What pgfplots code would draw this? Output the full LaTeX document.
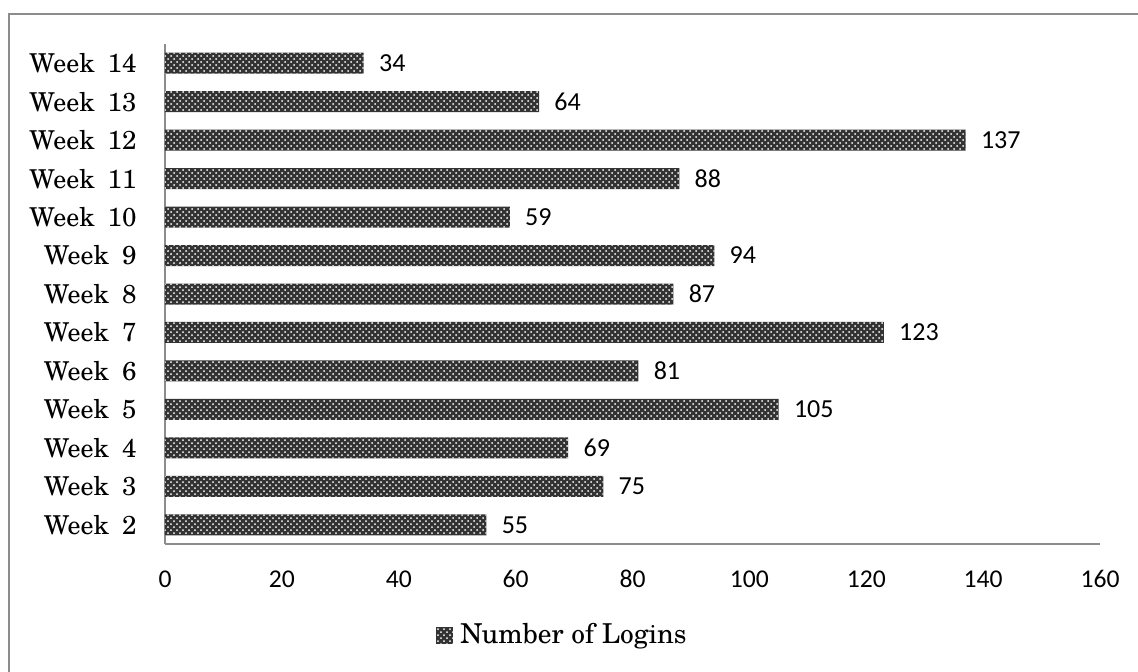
\documentclass[border=0pt]{standalone}
\usepackage{pgfplots}
\pgfplotsset{compat=1.18}
\usepackage{fontspec}
\setmainfont{TeX Gyre Schola}
\newfontfamily\calibri{Carlito}
\usetikzlibrary{patterns}

\begin{document}
\begin{tikzpicture}[x=1pt,y=1pt]
\useasboundingbox (-82.5,-63.5) rectangle (486.5,272);
\draw[black!45, line width=1.1pt] (-78,-80) -- (-78,265) -- (500,265);
\begin{axis}[
  xbar, scale only axis,
  width=467.5pt, height=250pt,
  xmin=0, xmax=160, ymin=-0.5, ymax=12.5,
  axis lines*=left,
  axis line style={black!45, line width=0.8pt},
  major tick length=0pt,
  xtick={0,20,...,160}, ytick={0,...,12},
  yticklabels={Week\hspace{0.5em}2,Week\hspace{0.5em}3,Week\hspace{0.5em}4,Week\hspace{0.5em}5,Week\hspace{0.5em}6,Week\hspace{0.5em}7,Week\hspace{0.5em}8,Week\hspace{0.5em}9,Week\hspace{0.5em}10,Week\hspace{0.5em}11,Week\hspace{0.5em}12,Week\hspace{0.5em}13,Week\hspace{0.5em}14},
  yticklabel style={font=\fontsize{13}{15}\selectfont, inner sep=0pt, xshift=-14pt},
  xticklabel style={font=\calibri\fontsize{12.8}{15}\selectfont, inner sep=0pt, yshift=-13pt},
  /pgf/number format/assume math mode=true,
  bar width=10.5pt,
  nodes near coords, point meta=x,
  nodes near coords style={font=\calibri\fontsize{13}{15}\selectfont, anchor=west, inner sep=0pt, xshift=7.5pt},
  legend style={at={(0.4278,-0.182)}, anchor=center, draw=none, font=\fontsize{13.7}{16}\selectfont,
    nodes={inner xsep=3.5pt}},
  legend image code/.code={\fill[#1] (0pt,-4.25pt) rectangle (8.5pt,4.25pt);},
]
\addplot[draw=none, fill=black!80, postaction={pattern=crosshatch dots, pattern color=white}]
  coordinates {(55,0) (75,1) (69,2) (105,3) (81,4) (123,5) (87,6) (94,7) (59,8) (88,9) (137,10) (64,11) (34,12)};
\legend{Number of Logins}
\end{axis}
\end{tikzpicture}
\end{document}
